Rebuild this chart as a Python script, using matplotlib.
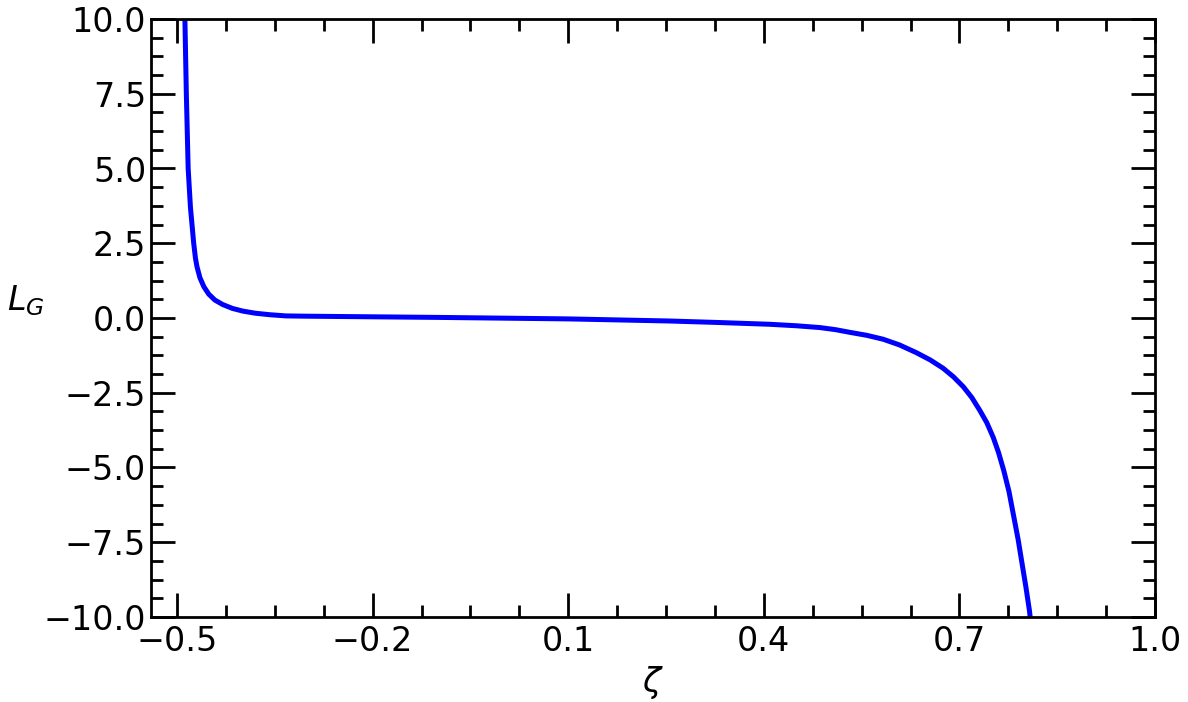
import numpy as np
import matplotlib
matplotlib.use('Agg')
from matplotlib import pyplot as plt
from matplotlib.ticker import AutoMinorLocator

# values
zeta = [-0.4885, -0.4880, -0.4858, -0.4830, -0.4795, -0.4745, -0.4718, -0.4695,
        -0.4650, -0.4590, -0.4515, -0.4420, -0.4300, -0.4151, -0.3990, -0.3800,
        -0.3580, -0.3331, -0.30, -0.25, -0.10, 0.10, 0.255, 0.33, 0.409, 0.45,
        0.486, 0.510, 0.532, 0.558, 0.583, 0.608, 0.634, 0.655, 0.675, 0.691,
        0.706, 0.719, 0.731, 0.742, 0.752, 0.760, 0.768, 0.776, 0.783, 0.790,
        0.796, 0.802, 0.8075, 0.8095]
L_G = [10.3, 10.0, 7.5, 5.0, 3.7, 2.5, 2.0, 1.72,
       1.35, 1.05, 0.80, 0.60, 0.45, 0.32, 0.23, 0.16,
       0.11, 0.07, 0.06, 0.05, 0.02, -0.03, -0.10, -0.15, -0.21, -0.26,
       -0.32, -0.39, -0.48, -0.58, -0.71, -0.90, -1.16, -1.40, -1.68, -1.97,
       -2.30, -2.66, -3.08, -3.50, -4.00, -4.50, -5.10, -5.80, -6.60, -7.40,
       -8.20, -9.00, -9.80, -10.2]

x_ticks = [-0.5, -0.2, 0.1, 0.4, 0.7, 1.0]
x_labels = ['\u22120.5', '\u22120.2', '0.1', '0.4', '0.7', '1.0']
y_ticks = [-10.0, -7.5, -5.0, -2.5, 0.0, 2.5, 5.0, 7.5, 10.0]

fig = plt.figure(figsize=(11.88, 7.02), dpi=100)
ax = fig.add_axes([151 / 1188, 1 - 617 / 702, (1155 - 151) / 1188, (617 - 19) / 702])

ax.plot(zeta, L_G, color='blue', lw=3.6, solid_joinstyle='round')

ax.set_xlim(-0.54, 1.0)
ax.set_ylim(-10, 10)
ax.set_xticks(x_ticks)
ax.set_xticklabels(x_labels)
ax.set_yticks(y_ticks)
ax.xaxis.set_minor_locator(AutoMinorLocator(4))
ax.yaxis.set_minor_locator(AutoMinorLocator(4))

ax.tick_params(which='both', direction='in', top=True, right=True, labelsize=24, width=2)
ax.tick_params(which='major', length=17)
ax.tick_params(which='minor', length=8.5)
ax.tick_params(axis='x', pad=6)
for s in ax.spines.values():
    s.set_linewidth(2)

ax.set_xlabel(r'$\zeta$', fontsize=24)
ax.set_ylabel(r'$L_G$', fontsize=24, rotation=0)
ax.yaxis.set_label_coords(-0.125, 0.5)

fig.savefig('out.png', dpi=100)
